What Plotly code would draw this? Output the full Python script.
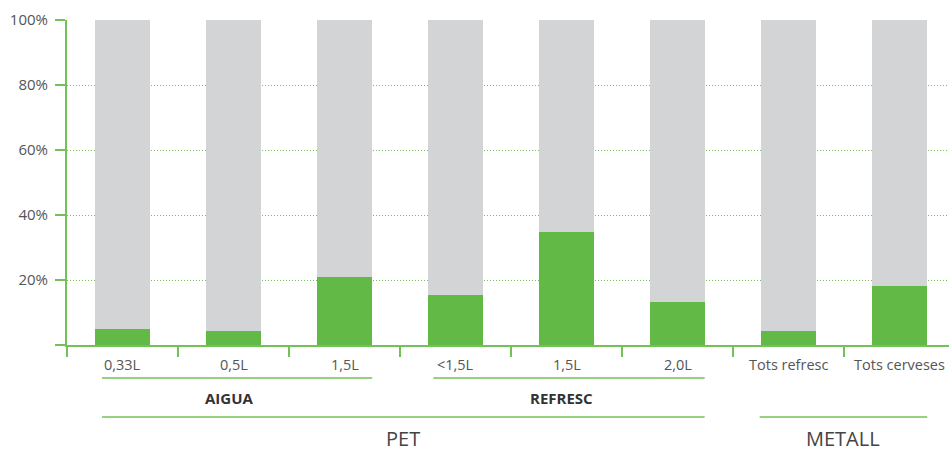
import plotly.graph_objects as go

categories = ["0,33L", "0,5L", "1,5L", "<1,5L", "1,5L", "2,0L", "Tots refresc", "Tots cerveses"]
green_vals = [4.9, 4.4, 20.9, 15.4, 34.8, 13.2, 4.3, 18.2]
grey_vals = [100 - v for v in green_vals]
y_ticks = [0, 20, 40, 60, 80, 100]
y_tick_text = ["", "20%", "40%", "60%", "80%", "100%"]

GREEN = "#62b946"
LINE = "#72c257"
GREY = "#d3d4d6"
TXT = "#4a4a4a"
FONT = "Open Sans"

xs = list(range(len(categories)))

fig = go.Figure()
fig.add_trace(go.Bar(x=xs, y=green_vals, marker=dict(color=GREEN, line=dict(width=0)), width=0.5, hoverinfo="skip"))
fig.add_trace(go.Bar(x=xs, y=grey_vals, marker=dict(color=GREY, line=dict(width=0)), width=0.5, hoverinfo="skip"))

fig.update_layout(
    barmode="stack",
    width=949, height=452,
    margin=dict(l=67, r=0, t=20, b=107, autoexpand=False),
    plot_bgcolor="white", paper_bgcolor="white",
    showlegend=False,
    font=dict(family=FONT, color=TXT),
)
fig.update_yaxes(
    range=[0, 100], tickvals=y_ticks, ticktext=y_tick_text, automargin=False,
    showgrid=True, gridcolor=LINE, griddash="1px,2px", gridwidth=1,
    showline=True, linecolor=LINE, linewidth=2,
    ticks="outside", ticklen=10, tickwidth=2, tickcolor=LINE,
    ticklabelstandoff=4,
    tickfont=dict(size=15, color="#555555", family=FONT),
    zeroline=False,
)
fig.update_xaxes(
    range=[-0.5, 7.446], automargin=False,
    tickvals=[i - 0.5 for i in xs], ticktext=["" for _ in xs],
    showgrid=False, showline=True, linecolor=LINE, linewidth=2,
    ticks="outside", ticklen=10, tickwidth=2, tickcolor=LINE,
    zeroline=False,
)

PX = 325.0  # plot height in px


def py(pix):
    return (345 - pix) / PX


# category labels
for i, c in enumerate(categories):
    fig.add_annotation(x=i, y=py(364.5), xref="x", yref="paper", text=c, showarrow=False,
                       yanchor="middle", font=dict(size=14.5, color="#555555", family=FONT))

# group lines and labels
groups1 = [("AIGUA", -0.185, 2.25), ("REFRESC", 2.8, 5.245)]
groups2 = [("PET", -0.185, 5.245), ("METALL", 5.74, 7.25)]
for name, x0, x1 in groups1:
    fig.add_shape(type="line", x0=x0, x1=x1, y0=py(378), y1=py(378), xref="x", yref="paper",
                  line=dict(color=LINE, width=1.5))
    fig.add_annotation(x=(x0 + x1) / 2 - 0.065, y=py(398), xref="x", yref="paper", text="<b>" + name + "</b>",
                       showarrow=False, yanchor="middle", font=dict(size=15, color="#333333", family=FONT))
for name, x0, x1 in groups2:
    fig.add_shape(type="line", x0=x0, x1=x1, y0=py(417), y1=py(417), xref="x", yref="paper",
                  line=dict(color=LINE, width=1.5))
    fig.add_annotation(x=(x0 + x1) / 2, y=py(438), xref="x", yref="paper", text=name,
                       showarrow=False, yanchor="middle", font=dict(size=20, color="#444444", family=FONT))

fig.write_html("out.html", config={"displayModeBar": False},
               post_script="document.body.style.margin='0';document.body.style.overflow='hidden';")
